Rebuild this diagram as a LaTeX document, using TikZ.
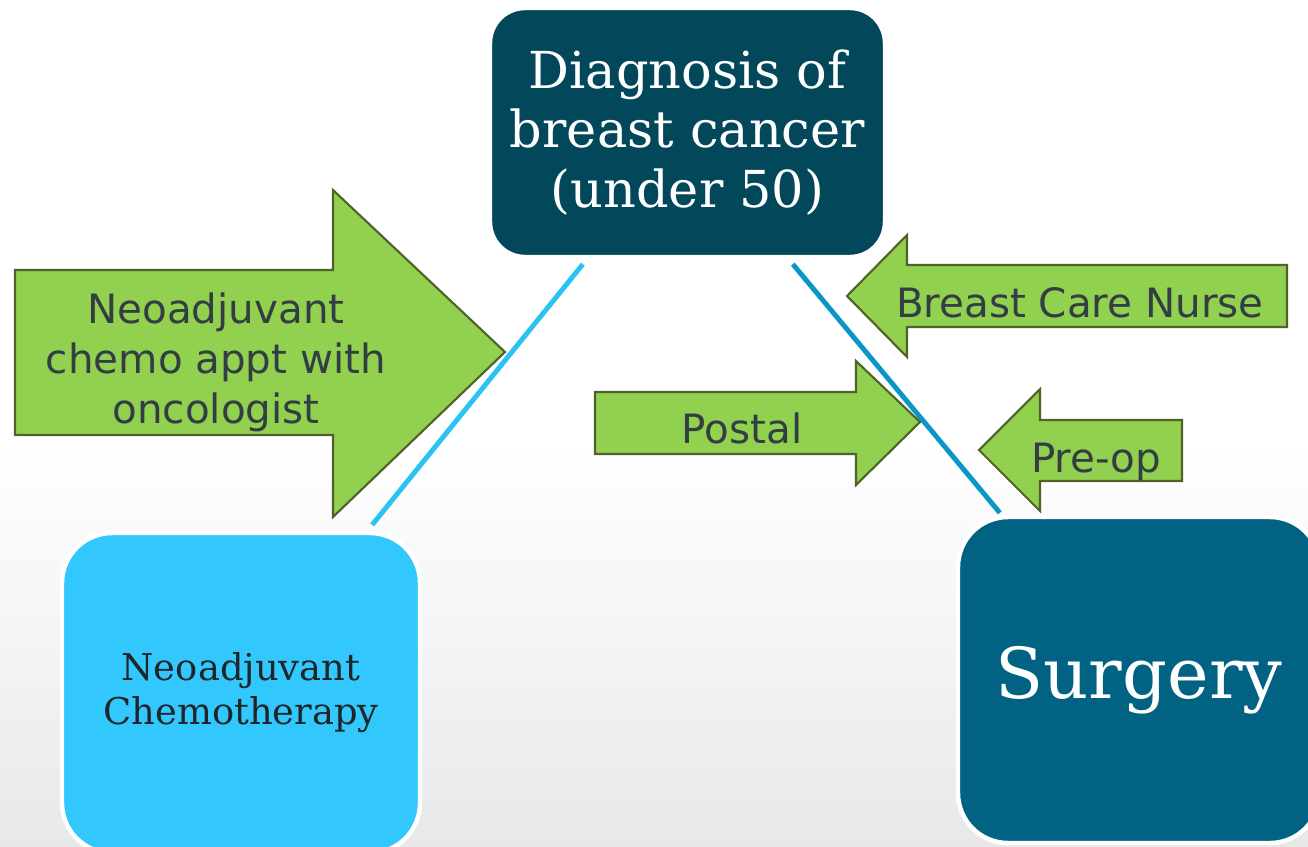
\documentclass[tikz,border=0pt]{standalone}
\usepackage{fontspec}
\setmainfont{DejaVu Serif}
\setsansfont{DejaVu Sans}
\usepackage{tikz}
\usetikzlibrary{calc}
\definecolor{mygreen}{RGB}{146,208,80}
\definecolor{myolive}{RGB}{79,98,40}
\definecolor{myslate}{RGB}{50,62,68}
\definecolor{mynavy}{RGB}{3,71,91}
\definecolor{mysky}{RGB}{51,200,253}
\definecolor{myteal}{RGB}{2,98,131}
\definecolor{myink}{RGB}{30,38,42}
\definecolor{mylight}{RGB}{41,196,243}
\definecolor{mymid}{RGB}{10,150,198}
\definecolor{mygrey}{RGB}{231,233,233}
\tikzset{
  myarrow/.style={fill=mygreen, draw=myolive, line width=1.2pt, line join=miter},
  mylabel/.style={font=\sffamily\fontsize{23}{28.4}\selectfont, text=myslate, align=center, inner sep=0pt},
  mybox/.style={rounded corners=1cm, draw=white, line width=2.5pt, inner sep=0pt, align=center},
  mylink/.style={line width=2.8pt},
}

\begin{document}
\begin{tikzpicture}[x=0.02cm, y=-0.02cm]
\clip (0,0) rectangle (1308,846);
\fill[white] (0,0) rectangle (1308,846);
\shade[top color=white, bottom color=mygrey] (0,440) rectangle (1308,846);

\node[mybox, rounded corners=0.7cm, fill=mynavy, text=white, minimum width=7.9cm, minimum height=4.98cm,
  font=\fontsize{29}{34}\selectfont] (diag) at (687.5,132.5) {Diagnosis of\\breast cancer\\(under 50)};
\node[mybox, fill=mysky, text=myink, minimum width=7.16cm, minimum height=6.4cm,
  font=\fontsize{21}{25}\selectfont] (chemo) at (241,693) {Neoadjuvant\\Chemotherapy};
\node[mybox, fill=myteal, text=white, minimum width=7.24cm, minimum height=6.52cm,
  font=\fontsize{40}{48}\selectfont] (surgery) at (1139,680) {Surgery};

\draw[mylink, mylight] ($(diag.south west)+(95,5)$) -- ($(chemo.north east)+(-50,-6)$);
\draw[mylink, mymid] ($(diag.south west)+(305,5)$) -- ($(surgery.north west)+(44,-2)$);

\draw[myarrow] (15,270) -- (333,270) -- (333,190) -- (505,352) -- (333,517) -- (333,435) -- (15,435) -- cycle;
\draw[myarrow] (847,296) -- (907,235) -- (907,265) -- (1287,265) -- (1287,327) -- (907,327) -- (907,357) -- cycle;
\draw[myarrow] (595,392) -- (856,392) -- (856,361) -- (920,422) -- (856,485) -- (856,454) -- (595,454) -- cycle;
\draw[myarrow] (979,450) -- (1040,389) -- (1040,420) -- (1182,420) -- (1182,481) -- (1040,481) -- (1040,511) -- cycle;

\node[mylabel] (appt) at (216,362) {Neoadjuvant\\chemo appt with\\oncologist};
\node[mylabel, anchor=base] (nurse) at (1080,317) {Breast Care Nurse};
\node[mylabel, anchor=base] (postal) at (742,443) {Postal};
\node[mylabel, anchor=base] (preop) at (1096,472) {Pre-op};
\end{tikzpicture}
\end{document}
